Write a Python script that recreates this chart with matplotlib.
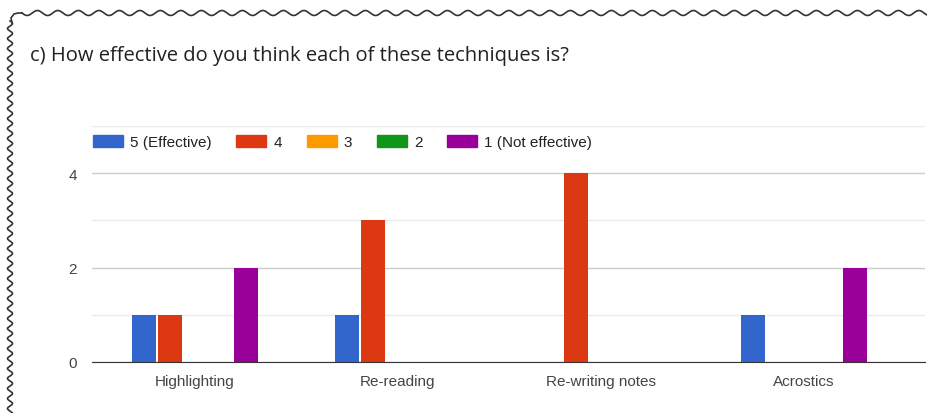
import numpy as np
import matplotlib.pyplot as plt
from matplotlib.lines import Line2D

techniques = ['Highlighting', 'Re-reading', 'Re-writing notes', 'Acrostics']
ratings = ['5 (Effective)', '4', '3', '2', '1 (Not effective)']
colors = ['#3366cc', '#dc3912', '#ff9900', '#109618', '#990099']

counts = {
    '5 (Effective)':     [1, 1, 0, 1],
    '4':                 [1, 3, 4, 0],
    '3':                 [0, 0, 0, 0],
    '2':                 [0, 0, 0, 0],
    '1 (Not effective)': [2, 0, 0, 2],
}

plt.rcParams['font.family'] = ['Liberation Sans', 'DejaVu Sans']

W, H = 927, 414
fig = plt.figure(figsize=(W / 100, H / 100), dpi=100)
ax = fig.add_axes([92 / W, 1 - 363 / H, (925 - 92) / W, (363 - 127) / H])

x = np.arange(len(techniques))
pitch = 0.125
width = 0.118
handles = []
for i, (r, c) in enumerate(zip(ratings, colors)):
    offs = (i - 2) * pitch
    ax.bar(x + offs, counts[r], width=width, color=c, zorder=3)
    handles.append(plt.Rectangle((0, 0), 1, 1, color=c))

ax.set_xlim(-0.507, 3.596)
ax.set_ylim(0, 5)
ax.set_yticks([0, 2, 4])
ax.set_yticks([1, 3, 5], minor=True)
ax.grid(axis='y', which='major', color='#cccccc', linewidth=1, zorder=0)
ax.grid(axis='y', which='minor', color='#ebebeb', linewidth=1, zorder=0)
ax.set_xticks(x)
ax.set_xticklabels(techniques)
ax.tick_params(axis='both', which='both', length=0, labelsize=11, labelcolor='#444444')
ax.tick_params(axis='x', pad=9)
ax.tick_params(axis='y', pad=11)
for s in ['top', 'right', 'left']:
    ax.spines[s].set_visible(False)
ax.spines['bottom'].set_color('#333333')
ax.spines['bottom'].set_zorder(4)

fig.legend(handles, ratings, loc='center left', bbox_to_anchor=(79 / W, 1 - 143 / H),
           ncol=5, frameon=False, fontsize=11, handlelength=1.96, handleheight=0.85,
           handletextpad=0.46, columnspacing=1.63, labelcolor='#222222')

fig.text(30 / W, 1 - 56 / H, 'c) How effective do you think each of these techniques is?',
         fontsize=14.5, color='#202124', va='center', ha='left',
         family=['Open Sans', 'DejaVu Sans'])

# torn-paper wavy border (top and left)
tx = np.linspace(22, W, 1500)
ty = 14 + 2.5 * np.sin(2 * np.pi * (tx - 22) / 20.5)
fig.add_artist(Line2D(tx / W, 1 - ty / H, color='#333333', linewidth=1.2,
                      transform=fig.transFigure))
ly = np.linspace(22, H, 1500)
lx = 10 + 2.5 * np.sin(2 * np.pi * (ly - 22) / 10)
fig.add_artist(Line2D(lx / W, 1 - ly / H, color='#333333', linewidth=1.2,
                      transform=fig.transFigure))
cx = np.array([12, 11, 14, 18, 22])
cy = np.array([24, 19, 15, 14, 14])
fig.add_artist(Line2D(cx / W, 1 - cy / H, color='#333333', linewidth=1.2,
                      transform=fig.transFigure))

fig.savefig('out.png', dpi=100)
